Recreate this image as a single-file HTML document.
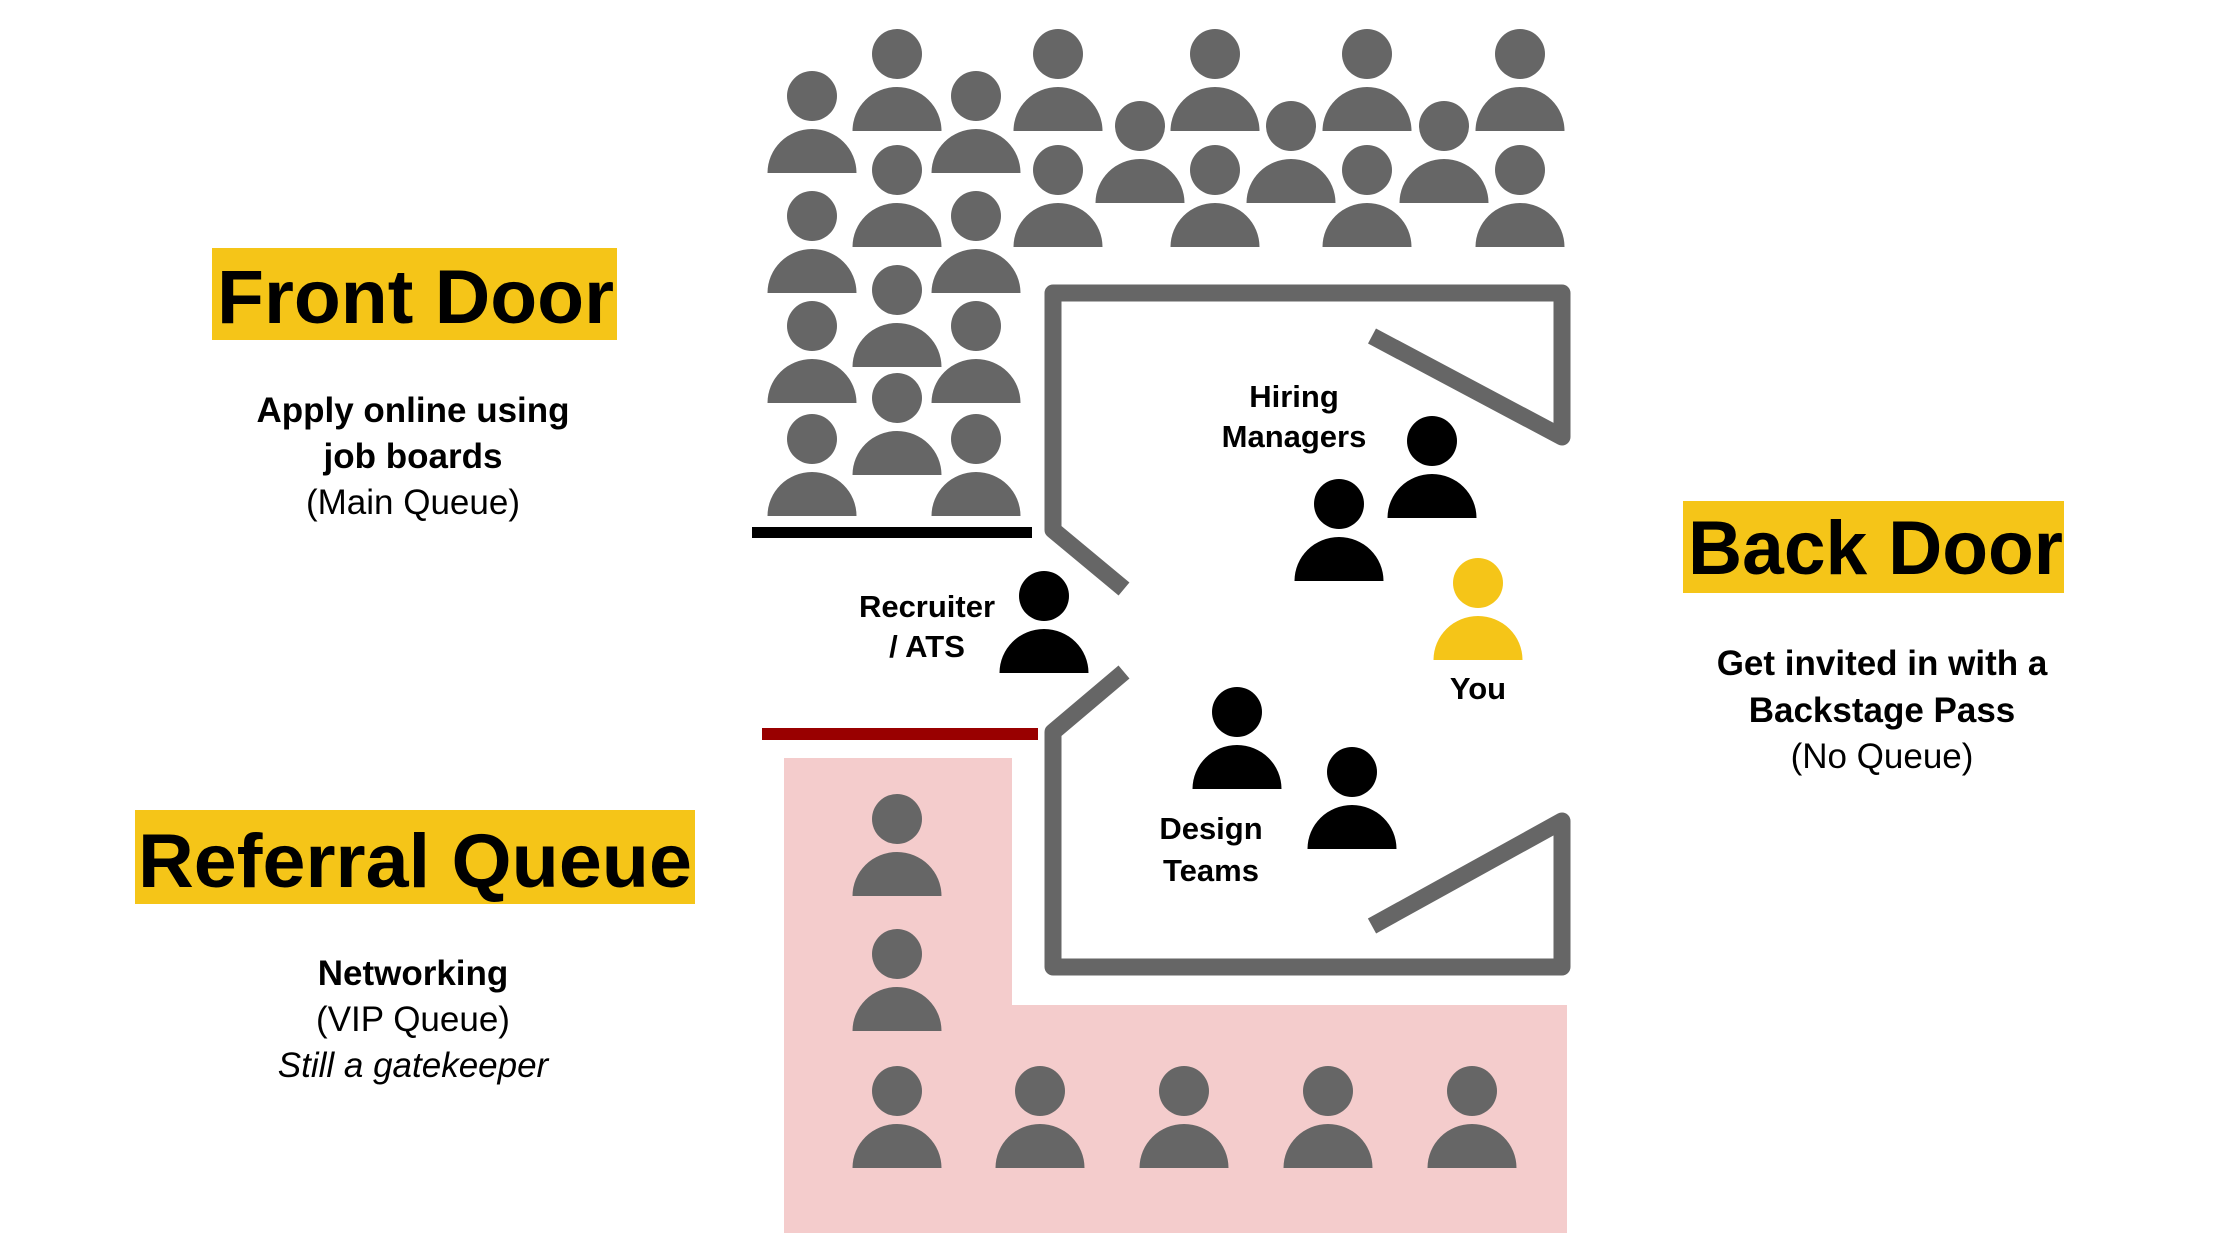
<!DOCTYPE html>
<html><head><meta charset="utf-8"><style>
html,body{margin:0;padding:0;background:#fff;}
svg{display:block;}
text{font-family:"Liberation Sans",sans-serif;fill:#000;}
.b{font-weight:bold;}
</style></head><body>
<svg width="2240" height="1260" viewBox="0 0 2240 1260" xmlns="http://www.w3.org/2000/svg">
<defs>
<g id="p"><circle cx="0" cy="-77" r="25"/><path d="M-44.5 0 A44.5 44 0 0 1 44.5 0 Z"/></g>
</defs>
<g transform="translate(-4,-3)">
<path d="M788 761 H1016 V1008 H1571 V1236 H788 Z" fill="#f4cccc"/>
<rect x="756" y="530" width="280" height="11" fill="#000"/>
<rect x="766" y="731" width="276" height="12" fill="#990000"/>
<g fill="none" stroke="#666" stroke-width="17" stroke-linejoin="round">
<path d="M1128 592 L1057 533 V296 H1566 V440 L1376 339"/>
<path d="M1128 675 L1057 735 V970 H1566 V824 L1376 929"/>
</g>
<g fill="#666">
<use href="#p" x="816" y="176"/><use href="#p" x="816" y="296"/><use href="#p" x="816" y="406"/><use href="#p" x="816" y="519"/>
<use href="#p" x="901" y="134"/><use href="#p" x="901" y="250"/><use href="#p" x="901" y="370"/><use href="#p" x="901" y="478"/>
<use href="#p" x="980" y="176"/><use href="#p" x="980" y="296"/><use href="#p" x="980" y="406"/><use href="#p" x="980" y="519"/>
<use href="#p" x="1062" y="134"/><use href="#p" x="1062" y="250"/>
<use href="#p" x="1144" y="206"/>
<use href="#p" x="1219" y="134"/><use href="#p" x="1219" y="250"/>
<use href="#p" x="1295" y="206"/>
<use href="#p" x="1371" y="134"/><use href="#p" x="1371" y="250"/>
<use href="#p" x="1448" y="206"/>
<use href="#p" x="1524" y="134"/><use href="#p" x="1524" y="250"/>
<use href="#p" x="901" y="899"/><use href="#p" x="901" y="1034"/>
<use href="#p" x="901" y="1171"/><use href="#p" x="1044" y="1171"/><use href="#p" x="1188" y="1171"/><use href="#p" x="1332" y="1171"/><use href="#p" x="1476" y="1171"/>
</g>
<g fill="#000">
<use href="#p" x="1048" y="676"/>
<use href="#p" x="1436" y="521"/>
<use href="#p" x="1343" y="584"/>
<use href="#p" x="1241" y="792"/>
<use href="#p" x="1356" y="852"/>
</g>
<g fill="#f5c518"><use href="#p" x="1482" y="663"/></g>
<g font-size="31" text-anchor="middle">
<text class="b" x="1298" y="410">Hiring</text>
<text class="b" x="1298" y="450">Managers</text>
<text class="b" x="931" y="620">Recruiter</text>
<text class="b" x="931" y="660">/ ATS</text>
<text class="b" x="1482" y="702">You</text>
<text class="b" x="1215" y="842">Design</text>
<text class="b" x="1215" y="884">Teams</text>
</g>
</g>
<rect x="212" y="248" width="405" height="92" fill="#f5c518"/>
<text class="b" x="217" y="323" font-size="76" textLength="397" lengthAdjust="spacingAndGlyphs">Front Door</text>
<rect x="135" y="810" width="560" height="94" fill="#f5c518"/>
<text class="b" x="138" y="887" font-size="76" textLength="554" lengthAdjust="spacingAndGlyphs">Referral Queue</text>
<rect x="1683" y="501" width="381" height="92" fill="#f5c518"/>
<text class="b" x="1688" y="574" font-size="76" textLength="375" lengthAdjust="spacingAndGlyphs">Back Door</text>
<g font-size="35" text-anchor="middle">
<text class="b" x="413" y="422">Apply online using</text>
<text class="b" x="413" y="468">job boards</text>
<text x="413" y="514">(Main Queue)</text>
<text class="b" x="413" y="985">Networking</text>
<text x="413" y="1031">(VIP Queue)</text>
<text x="413" y="1077" font-style="italic">Still a gatekeeper</text>
<text class="b" x="1882" y="675">Get invited in with a</text>
<text class="b" x="1882" y="722">Backstage Pass</text>
<text x="1882" y="768">(No Queue)</text>
</g>
</svg>
</body></html>
